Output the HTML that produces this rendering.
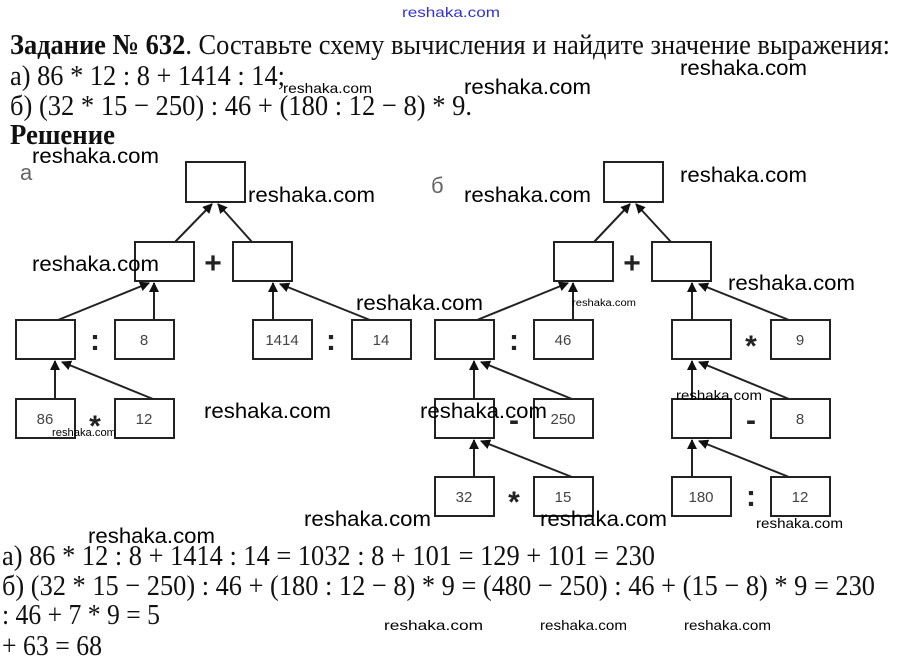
<!DOCTYPE html>
<html><head><meta charset="utf-8"><style>
html,body{margin:0;padding:0;background:#fff;width:900px;height:668px;overflow:hidden}
svg{display:block}
.t{font-family:"Liberation Serif",serif;font-size:29px;fill:#111}
.w{font-family:"Liberation Sans",sans-serif;font-size:21px;fill:#000}
.ws{font-family:"Liberation Sans",sans-serif;font-size:14px;fill:#000}
.b{fill:#fff;stroke:#222;stroke-width:2}
.n{font-family:"Liberation Sans",sans-serif;font-size:15px;fill:#444;text-anchor:middle}
.op{font-family:"Liberation Sans",sans-serif;font-size:30px;font-weight:bold;fill:#222;text-anchor:middle}
line{stroke:#222;stroke-width:2;marker-end:url(#ar)}
</style></head><body>
<svg width="900" height="668" viewBox="0 0 900 668">
<defs><marker id="ar" markerWidth="10" markerHeight="10" refX="9" refY="5" orient="auto" markerUnits="userSpaceOnUse"><path d="M0,0 L10,5 L0,10 z" fill="#111"/></marker></defs>
<text x="402" y="17" style="font-family:'Liberation Sans',sans-serif;font-size:14px;fill:#33c" textLength="98" lengthAdjust="spacingAndGlyphs">reshaka.com</text>
<text class="t" x="10" y="54" textLength="880" lengthAdjust="spacingAndGlyphs"><tspan font-weight="bold">Задание № 632</tspan>. Составьте схему вычисления и найдите значение выражения:</text>
<text class="t" x="10" y="85" textLength="275" lengthAdjust="spacingAndGlyphs">а) 86 * 12 : 8 + 1414 : 14;</text>
<text class="t" x="10" y="115" textLength="462" lengthAdjust="spacingAndGlyphs">б) (32 * 15 − 250) : 46 + (180 : 12 − 8) * 9.</text>
<text class="t" x="10" y="144" font-weight="bold" textLength="105" lengthAdjust="spacingAndGlyphs">Решение</text>
<text class="t" x="2" y="565" textLength="653" lengthAdjust="spacingAndGlyphs">а) 86 * 12 : 8 + 1414 : 14 = 1032 : 8 + 101 = 129 + 101 = 230</text>
<text class="t" x="2" y="595" textLength="873" lengthAdjust="spacingAndGlyphs">б) (32 * 15 − 250) : 46 + (180 : 12 − 8) * 9 = (480 − 250) : 46 + (15 − 8) * 9 = 230</text>
<text class="t" x="2" y="624" textLength="158" lengthAdjust="spacingAndGlyphs">: 46 + 7 * 9 = 5</text>
<text class="t" x="2" y="655" textLength="100" lengthAdjust="spacingAndGlyphs">+ 63 = 68</text>
<text x="20" y="180" style="font-family:'Liberation Sans',sans-serif;font-size:22px;fill:#666">а</text>
<text x="431" y="193" style="font-family:'Liberation Sans',sans-serif;font-size:22px;fill:#666">б</text>
<!-- tree a -->
<line x1="175" y1="242" x2="212" y2="204"/><line x1="252" y1="242" x2="218" y2="204"/>
<line x1="58" y1="320" x2="149" y2="283"/><line x1="154" y1="320" x2="154" y2="283"/>
<line x1="273" y1="320" x2="273" y2="283"/><line x1="370" y1="320" x2="280" y2="284"/>
<line x1="55" y1="399" x2="55" y2="361"/><line x1="153" y1="399" x2="62" y2="362"/>
<rect class="b" x="186" y="162" width="59" height="40"/>
<rect class="b" x="135" y="242" width="59" height="39"/><rect class="b" x="233" y="242" width="59" height="39"/>
<rect class="b" x="16" y="320" width="59" height="39"/><rect class="b" x="115" y="320" width="59" height="39"/>
<rect class="b" x="253" y="320" width="59" height="39"/><rect class="b" x="352" y="320" width="59" height="39"/>
<rect class="b" x="16" y="399" width="59" height="39"/><rect class="b" x="115" y="399" width="59" height="39"/>
<text class="n" x="144" y="345">8</text><text class="n" x="282" y="345">1414</text><text class="n" x="381" y="345">14</text>
<text class="n" x="45" y="424">86</text><text class="n" x="144" y="424">12</text>
<text class="op" x="213" y="273">+</text><text class="op" x="95" y="350">:</text><text class="op" x="331" y="350">:</text><text class="op" x="95" y="436">*</text>
<!-- tree b -->
<line x1="594" y1="242" x2="630" y2="204"/><line x1="671" y1="242" x2="636" y2="204"/>
<line x1="477" y1="320" x2="568" y2="283"/><line x1="573" y1="320" x2="573" y2="283"/>
<line x1="692" y1="320" x2="692" y2="283"/><line x1="789" y1="320" x2="699" y2="284"/>
<line x1="474" y1="399" x2="474" y2="361"/><line x1="572" y1="399" x2="481" y2="362"/>
<line x1="474" y1="477" x2="474" y2="440"/><line x1="572" y1="477" x2="481" y2="441"/>
<line x1="692" y1="399" x2="692" y2="361"/><line x1="789" y1="399" x2="699" y2="362"/>
<line x1="692" y1="477" x2="692" y2="440"/><line x1="789" y1="477" x2="699" y2="441"/>
<rect class="b" x="604" y="162" width="59" height="40"/>
<rect class="b" x="554" y="242" width="59" height="39"/><rect class="b" x="652" y="242" width="59" height="39"/>
<rect class="b" x="435" y="320" width="59" height="39"/><rect class="b" x="534" y="320" width="59" height="39"/>
<rect class="b" x="672" y="320" width="59" height="39"/><rect class="b" x="771" y="320" width="59" height="39"/>
<rect class="b" x="435" y="399" width="59" height="39"/><rect class="b" x="534" y="399" width="59" height="39"/>
<rect class="b" x="672" y="399" width="59" height="39"/><rect class="b" x="771" y="399" width="59" height="39"/>
<rect class="b" x="435" y="477" width="59" height="39"/><rect class="b" x="534" y="477" width="59" height="39"/>
<rect class="b" x="672" y="477" width="59" height="39"/><rect class="b" x="771" y="477" width="59" height="39"/>
<text class="n" x="563" y="345">46</text><text class="n" x="800" y="345">9</text>
<text class="n" x="563" y="424">250</text><text class="n" x="800" y="424">8</text>
<text class="n" x="464" y="502">32</text><text class="n" x="563" y="502">15</text>
<text class="n" x="701" y="502">180</text><text class="n" x="800" y="502">12</text>
<text class="op" x="632" y="273">+</text><text class="op" x="514" y="350">:</text><text class="op" x="751" y="356">*</text>
<text class="op" x="514" y="430">-</text><text class="op" x="751" y="430">-</text>
<text class="op" x="514" y="512">*</text><text class="op" x="751" y="506">:</text>
<!-- watermarks -->
<g class="w">
<text x="680" y="75" textLength="127" lengthAdjust="spacingAndGlyphs">reshaka.com</text>
<text x="464" y="94" textLength="127" lengthAdjust="spacingAndGlyphs">reshaka.com</text>
<text x="32" y="163" textLength="127" lengthAdjust="spacingAndGlyphs">reshaka.com</text>
<text x="248" y="202" textLength="127" lengthAdjust="spacingAndGlyphs">reshaka.com</text>
<text x="464" y="202" textLength="127" lengthAdjust="spacingAndGlyphs">reshaka.com</text>
<text x="680" y="182" textLength="127" lengthAdjust="spacingAndGlyphs">reshaka.com</text>
<text x="32" y="271" textLength="127" lengthAdjust="spacingAndGlyphs">reshaka.com</text>
<text x="356" y="310" textLength="127" lengthAdjust="spacingAndGlyphs">reshaka.com</text>
<text x="728" y="290" textLength="127" lengthAdjust="spacingAndGlyphs">reshaka.com</text>
<text x="204" y="418" textLength="127" lengthAdjust="spacingAndGlyphs">reshaka.com</text>
<text x="420" y="418" textLength="127" lengthAdjust="spacingAndGlyphs">reshaka.com</text>
<text x="88" y="543" textLength="127" lengthAdjust="spacingAndGlyphs">reshaka.com</text>
<text x="304" y="526" textLength="127" lengthAdjust="spacingAndGlyphs">reshaka.com</text>
<text x="540" y="526" textLength="127" lengthAdjust="spacingAndGlyphs">reshaka.com</text>
</g>
<g class="ws">
<text x="283" y="93" textLength="89" lengthAdjust="spacingAndGlyphs">reshaka.com</text>
<text x="572" y="306" font-size="10" textLength="64" lengthAdjust="spacingAndGlyphs">reshaka.com</text>
<text x="52" y="436" font-size="11" textLength="64" lengthAdjust="spacingAndGlyphs">reshaka.com</text>
<text x="676" y="400" textLength="86" lengthAdjust="spacingAndGlyphs">reshaka.com</text>
<text x="756" y="528" textLength="87" lengthAdjust="spacingAndGlyphs">reshaka.com</text>
<text x="384" y="630" textLength="99" lengthAdjust="spacingAndGlyphs">reshaka.com</text>
<text x="540" y="630" textLength="87" lengthAdjust="spacingAndGlyphs">reshaka.com</text>
<text x="684" y="630" textLength="87" lengthAdjust="spacingAndGlyphs">reshaka.com</text>
</g>
</svg>
</body></html>
